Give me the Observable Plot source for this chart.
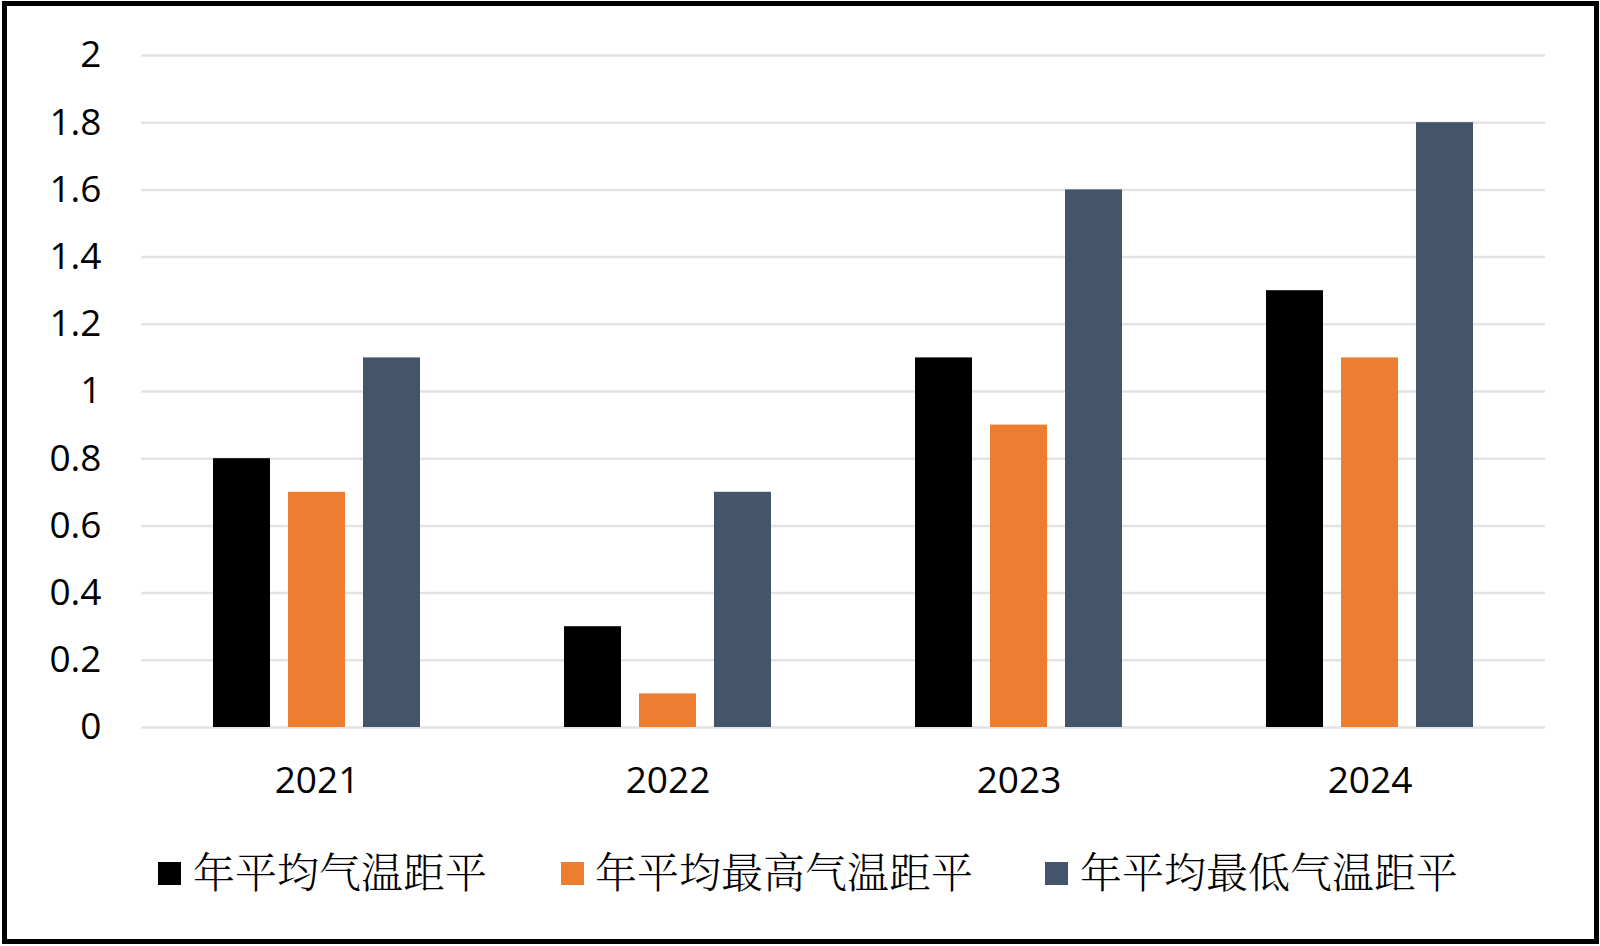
<!DOCTYPE html>
<html>
<head>
<meta charset="utf-8">
<script src="https://cdn.jsdelivr.net/npm/d3@7"></script>
<script src="https://cdn.jsdelivr.net/npm/@observablehq/plot@0.6"></script>
<style>
  html, body { margin: 0; padding: 0; background: #fff; width: 1600px; height: 946px; overflow: hidden; }
  #frame { position: absolute; left: 2px; top: 1px; width: 1597px; height: 943px; border: 5px solid #000; box-sizing: border-box; pointer-events: none; }
  #chart { position: absolute; left: 0; top: 0; }
  .leg-sw { position: absolute; width: 23px; height: 23px; top: 862px; }
  .leg-tx { position: absolute; top: 844px; height: 52px; line-height: 52px; font-size: 42px; color: #000;
            font-family: "SimSun", "Noto Serif CJK SC", "Noto Sans CJK SC", sans-serif; font-weight: 300; white-space: nowrap; }
</style>
</head>
<body>
<div id="chart"></div>
<div id="legend"></div>
<div id="frame"></div>
<script>
const years = ["2021", "2022", "2023", "2024"];
const series = ["年平均气温距平", "年平均最高气温距平", "年平均最低气温距平"];
const colors = ["#000000", "#ED7D31", "#44546A"];
const meanValues = [0.8, 0.3, 1.1, 1.3];
const maxValues = [0.7, 0.1, 0.9, 1.1];
const minValues = [1.1, 0.7, 1.6, 1.8];
const yTicks = [0, 0.2, 0.4, 0.6, 0.8, 1, 1.2, 1.4, 1.6, 1.8, 2];
const yTickLabels = ["0", "0.2", "0.4", "0.6", "0.8", "1", "1.2", "1.4", "1.6", "1.8", "2"];

const seriesValues = [meanValues, maxValues, minValues];
const data = [];
years.forEach((y, i) => {
  series.forEach((s, j) => data.push({year: y, series: s, value: seriesValues[j][i]}));
});

const numFont = '"Open Sans", "Noto Sans", sans-serif';

const chart = Plot.plot({
  width: 1600,
  height: 820,
  marginTop: 55,
  marginBottom: 93,
  marginLeft: 140,
  marginRight: 55,
  style: {fontFamily: numFont, background: "transparent", color: "#000"},
  fx: {domain: years, paddingInner: 0, paddingOuter: 0, label: null},
  x: {domain: series, paddingInner: 0.24, paddingOuter: 0.95, axis: null},
  y: {domain: [0, 2], label: null},
  color: {domain: series, range: colors},
  marks: [
    Plot.gridY({ticks: yTicks, stroke: "#e3e3e3", strokeOpacity: 1, strokeWidth: 2.5}),
    Plot.barY(data, {fx: "year", x: "series", y: "value", fill: "series"}),
    Plot.axisY({ticks: yTicks, tickFormat: d => yTickLabels[yTicks.indexOf(d)], tickSize: 0, tickPadding: 40, fontSize: 37, label: null}),
    Plot.axisFx({anchor: "bottom", tickSize: 0, tickPadding: 39, fontSize: 37, label: null})
  ]
});
document.getElementById("chart").appendChild(chart);

const legend = document.getElementById("legend");
const swX = [158, 561, 1045];
const txX = [193, 595, 1080];
series.forEach((s, i) => {
  const sw = document.createElement("div");
  sw.className = "leg-sw";
  sw.style.left = swX[i] + "px";
  sw.style.background = colors[i];
  legend.appendChild(sw);
  const tx = document.createElement("div");
  tx.className = "leg-tx";
  tx.style.left = txX[i] + "px";
  tx.textContent = s;
  legend.appendChild(tx);
});
</script>
</body>
</html>
